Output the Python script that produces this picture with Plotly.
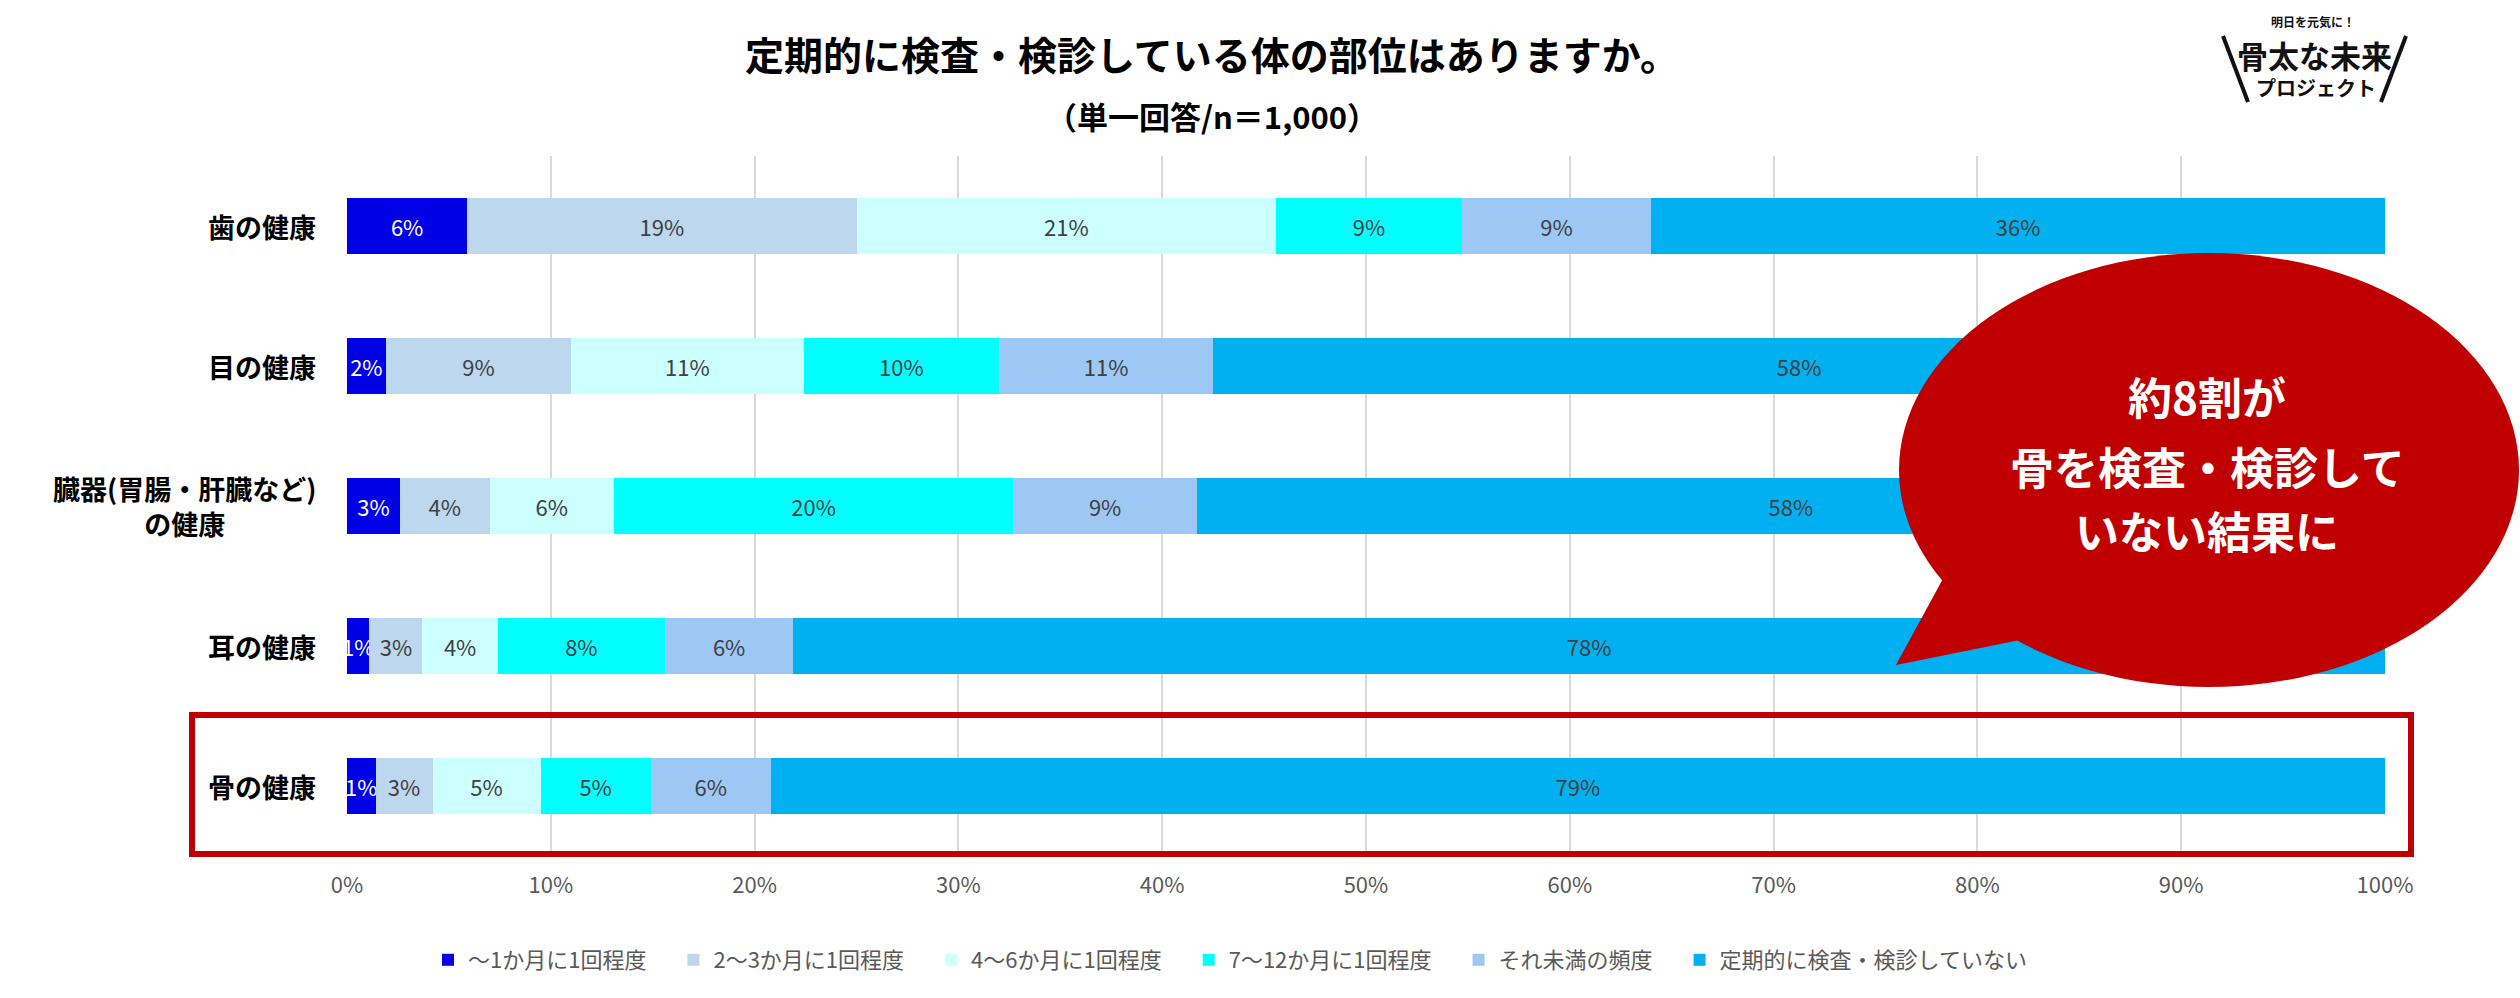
import plotly.graph_objects as go

# ---- data (%) ----
categories = ["歯の健康", "目の健康", "臓器(胃腸・肝臓など)<br>の健康", "耳の健康", "骨の健康"]
series_names = ["～1か月に1回程度", "2～3か月に1回程度", "4～6か月に1回程度",
                "7～12か月に1回程度", "それ未満の頻度", "定期的に検査・検診していない"]
s_1m = [5.9, 1.9, 2.6, 1.1, 1.4]
s_2_3m = [19.1, 9.1, 4.4, 2.6, 2.8]
s_4_6m = [20.6, 11.4, 6.1, 3.7, 5.3]
s_7_12m = [9.1, 9.6, 19.6, 8.2, 5.4]
s_less = [9.3, 10.5, 9.0, 6.3, 5.9]
s_none = [36.0, 57.5, 58.3, 78.1, 79.2]
x_tick_vals = [0, 10, 20, 30, 40, 50, 60, 70, 80, 90, 100]
x_tick_text = ["0%", "10%", "20%", "30%", "40%", "50%", "60%", "70%", "80%", "90%", "100%"]

series_values = [s_1m, s_2_3m, s_4_6m, s_7_12m, s_less, s_none]
colors = ["#0000E6", "#BDD7EE", "#CCFFFF", "#00FFFF", "#9DC8F5", "#00B0F0"]
text_colors = ["#FFFFFF", "#404040", "#404040", "#404040", "#404040", "#404040"]

JP = "Noto Sans CJK JP"
W, H = 2520, 998
ML, MR, MT, MB = 347, 135, 156, 142
PW, PH = W - ML - MR, H - MT - MB


def px(x):
    return (x - ML) / PW


def py(y):
    return (H - MB - y) / PH


fig = go.Figure()
for name, vals, col, tcol in zip(series_names, series_values, colors, text_colors):
    fig.add_trace(go.Bar(
        y=categories, x=vals, name=name + "\u3000", orientation="h",
        marker=dict(color=col, line=dict(width=0)),
        texttemplate="%{x:.0f}%", textposition="inside", insidetextanchor="middle",
        textangle=0, constraintext="none",
        textfont=dict(color=tcol, size=22, family=JP),
        hoverinfo="skip",
    ))

annotations = []
# category labels (centered multi-line, right-aligned block)
for c in categories:
    annotations.append(dict(
        x=px(318), y=c, xref="paper", yref="y", text="<b>" + c + "</b>",
        xanchor="right", yanchor="middle", align="center", showarrow=False,
        font=dict(family=JP, size=27, color="#000000"),
    ))

# title & subtitle
annotations.append(dict(x=px(1212), y=py(53), xref="paper", yref="paper",
                        text="<b>定期的に検査・検診している体の部位はありますか。</b>",
                        showarrow=False, xanchor="center", yanchor="middle",
                        font=dict(family=JP, size=39, color="#000000")))
annotations.append(dict(x=px(1212), y=py(116), xref="paper", yref="paper",
                        text="<b>（単一回答/n＝1,000）</b>",
                        showarrow=False, xanchor="center", yanchor="middle",
                        font=dict(family=JP, size=31, color="#000000")))

# callout text
for txt, yy in [("約8割が", 396), ("骨を検査・検診して", 466), ("いない結果に", 530)]:
    annotations.append(dict(x=px(2207), y=py(yy), xref="paper", yref="paper",
                            text="<b>" + txt + "</b>", showarrow=False,
                            xanchor="center", yanchor="middle",
                            font=dict(family=JP, size=44, color="#FFFFFF")))

# logo texts
annotations.append(dict(x=px(2313), y=py(21), xref="paper", yref="paper",
                        text="<b>明日を元気に！</b>", showarrow=False,
                        xanchor="center", yanchor="middle",
                        font=dict(family=JP, size=12, color="#111111")))
annotations.append(dict(x=px(2314), y=py(55), xref="paper", yref="paper",
                        text="<b>骨太な未来</b>", showarrow=False,
                        xanchor="center", yanchor="middle",
                        font=dict(family=JP, size=31, color="#111111")))
annotations.append(dict(x=px(2316), y=py(88), xref="paper", yref="paper",
                        text="<b>プロジェクト</b>", showarrow=False,
                        xanchor="center", yanchor="middle",
                        font=dict(family=JP, size=20, color="#111111")))

red = "#C00000"


def path_from(points):
    s = "M " + " L ".join(f"{px(a):.5f},{py(b):.5f}" for a, b in points) + " Z"
    return s


shapes = [
    # red highlight box
    dict(type="rect", xref="paper", yref="paper",
         x0=px(192), x1=px(2411), y0=py(854), y1=py(715),
         line=dict(color=red, width=6), fillcolor="rgba(0,0,0,0)", layer="above"),
    # callout tail
    dict(type="path", xref="paper", yref="paper",
         path=path_from([(1896, 665), (1945, 575), (2060, 555), (2030, 638)]),
         fillcolor=red, line=dict(width=0), layer="above"),
    # callout ellipse
    dict(type="circle", xref="paper", yref="paper",
         x0=px(1899), x1=px(2519), y0=py(687), y1=py(253),
         fillcolor=red, line=dict(width=0), layer="above"),
    # logo slashes
    dict(type="line", xref="paper", yref="paper",
         x0=px(2223), y0=py(36), x1=px(2248), y1=py(102),
         line=dict(color="#111111", width=4)),
    dict(type="line", xref="paper", yref="paper",
         x0=px(2406), y0=py(36), x1=px(2381), y1=py(102),
         line=dict(color="#111111", width=4)),
]

fig.update_layout(
    width=W, height=H, barmode="stack", bargap=0.6,
    margin=dict(l=ML, r=MR, t=MT, b=MB, autoexpand=False),
    plot_bgcolor="#FFFFFF", paper_bgcolor="#FFFFFF",
    font=dict(family=JP, color="#595959"),
    xaxis=dict(range=[0, 100], tickvals=x_tick_vals, ticktext=x_tick_text,
               showgrid=True, gridcolor="#D9D9D9", gridwidth=1.5,
               zeroline=False, showline=False, ticks="", ticklabelstandoff=14,
               tickfont=dict(family=JP, size=22, color="#595959")),
    yaxis=dict(autorange="reversed", showticklabels=False, showgrid=False,
               zeroline=False, showline=False, ticks=""),
    legend=dict(orientation="h", x=px(428), xanchor="left", y=py(960),
                yanchor="middle", traceorder="normal",
                font=dict(family=JP, size=22, color="#595959"),
                itemwidth=30, bgcolor="rgba(0,0,0,0)"),
    annotations=annotations, shapes=shapes, showlegend=True,
)

fig.write_html("out.html", config={"displayModeBar": False},
               post_script="document.body.style.margin='0px';")
